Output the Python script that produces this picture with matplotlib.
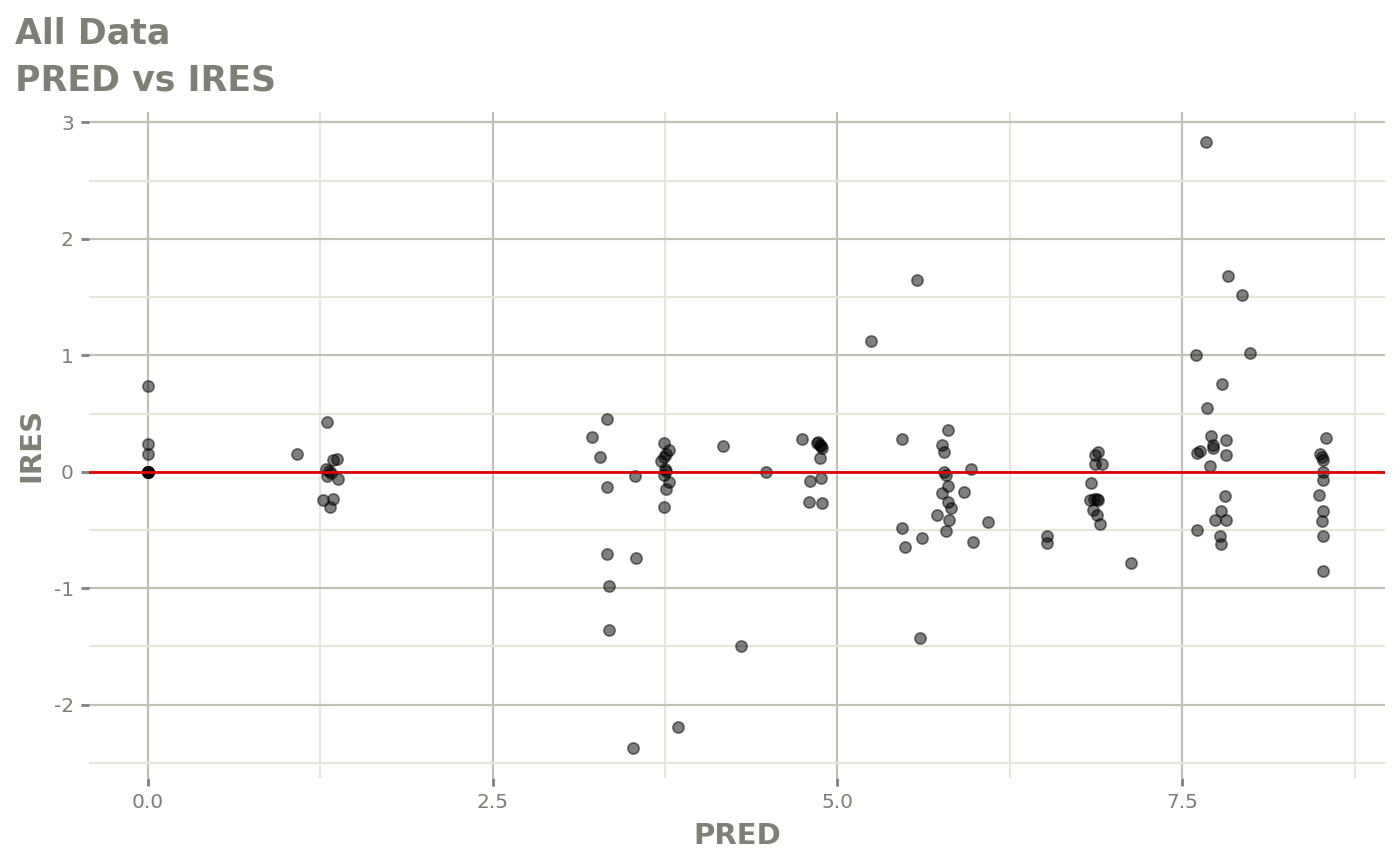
import matplotlib
matplotlib.use("Agg")
import matplotlib.pyplot as plt
import numpy as np

# PRED (x) and IRES (y)
pred = [0, 0, 0, 0, 0, 0, 0, 0,
        1.08, 1.30, 1.37, 1.34, 1.31, 1.33, 1.29, 1.38, 1.30, 1.27, 1.34, 1.32,
        3.33, 3.22, 3.28, 3.33, 3.53, 3.74, 3.78, 3.76, 3.74, 3.72, 3.75, 3.76,
        3.74, 3.78, 3.76, 3.74, 4.17, 4.48, 4.74, 4.86, 4.87, 4.88, 4.89, 4.85,
        4.87, 4.80, 4.88, 4.79, 4.89, 3.33, 3.54, 3.34, 3.34, 4.30, 3.52, 3.84,
        5.24, 5.58, 5.60,
        5.47, 5.80, 5.76, 5.77, 5.77, 5.79, 5.97, 5.80, 5.76, 5.92, 5.80, 5.82,
        5.72, 5.81, 5.79, 5.47, 5.61, 5.49, 5.98, 6.09, 6.52, 6.52,
        6.89, 6.87, 6.87, 6.92, 6.84, 6.83, 6.86, 6.88, 6.89, 6.85, 6.88, 6.90,
        7.13, 7.60, 7.99, 7.79, 7.68, 7.71, 7.72, 7.72, 7.82, 7.82, 7.63, 7.61,
        7.70, 7.81, 7.78, 7.74, 7.82, 7.61, 7.77, 7.78, 7.67, 7.83, 7.93,
        8.54, 8.50, 8.51, 8.52, 8.52, 8.52, 8.49, 8.52, 8.51, 8.52, 8.52]
ires = [0.74, 0.24, 0.15, 0, 0, 0, 0, 0,
        0.15, 0.43, 0.11, 0.10, 0.01, -0.01, 0.02, -0.06, -0.04, -0.24, -0.23, -0.30,
        0.45, 0.30, 0.13, -0.13, -0.04, 0.25, 0.19, 0.15, 0.13, 0.09, 0.02, 0.01,
        -0.03, -0.09, -0.15, -0.30, 0.22, 0.00, 0.28, 0.26, 0.23, 0.22, 0.20, 0.25,
        0.12, -0.08, -0.05, -0.26, -0.27, -0.71, -0.74, -0.98, -1.36, -1.50, -2.37, -2.19,
        1.12, 1.65, -1.43,
        0.28, 0.36, 0.23, 0.17, 0.00, -0.03, 0.02, -0.12, -0.18, -0.17, -0.26, -0.31,
        -0.37, -0.41, -0.51, -0.48, -0.57, -0.65, -0.60, -0.43, -0.55, -0.61,
        0.17, 0.14, 0.07, 0.07, -0.10, -0.24, -0.23, -0.23, -0.24, -0.33, -0.37, -0.45,
        -0.78, 1.00, 1.02, 0.75, 0.55, 0.31, 0.23, 0.20, 0.27, 0.14, 0.18, 0.16,
        0.05, -0.21, -0.34, -0.41, -0.41, -0.50, -0.55, -0.62, 2.83, 1.68, 1.52,
        0.29, 0.15, 0.13, 0.10, 0.00, -0.07, -0.20, -0.34, -0.42, -0.55, -0.85]

text_col = "#7f7f75"
major_col = "#c0c0b4"
minor_col = "#e6e6da"

fig = plt.figure(figsize=(14, 8.66), dpi=100)
ax = fig.add_axes([0.0636, 0.1016, 0.9254, 0.7691])

ax.scatter(pred, ires, s=65, color="black", alpha=0.5, edgecolors="black",
           linewidths=1.2, zorder=3)
ax.axhline(0, color="#e00000", lw=2, zorder=4)

x_range = max(pred) - min(pred)
y_range = max(ires) - min(ires)
ax.set_xlim(min(pred) - 0.05 * x_range, max(pred) + 0.05 * x_range)
ax.set_ylim(min(ires) - 0.05 * y_range, max(ires) + 0.05 * y_range)

ax.set_xticks([0, 2.5, 5, 7.5])
ax.set_xticklabels(["0.0", "2.5", "5.0", "7.5"])
ax.set_xticks([1.25, 3.75, 6.25, 8.75], minor=True)
ax.set_yticks([-2, -1, 0, 1, 2, 3])
ax.set_yticklabels(["-2", "-1", "0", "1", "2", "3"])
ax.set_yticks([-2.5, -1.5, -0.5, 0.5, 1.5, 2.5], minor=True)

ax.grid(which="major", color=major_col, lw=1.6, zorder=0)
ax.grid(which="minor", color=minor_col, lw=1.6, zorder=0)
ax.set_axisbelow(True)
for sp in ax.spines.values():
    sp.set_visible(False)

ax.tick_params(which="major", length=6, width=2, color="#7f7f7f",
               labelcolor=text_col, labelsize=14.5, pad=5)
ax.tick_params(which="minor", length=0)

ax.set_xlabel("PRED", fontsize=21, fontweight="bold", color=text_col, labelpad=7)
ax.set_ylabel("IRES", fontsize=21, fontweight="bold", color=text_col, labelpad=6)

fig.text(15 / 1400, 1 - 17 / 866, "All Data\nPRED vs IRES", ha="left", va="top",
         fontsize=25, fontweight="bold", color=text_col, linespacing=1.45)

fig.savefig("out.png", dpi=100)
